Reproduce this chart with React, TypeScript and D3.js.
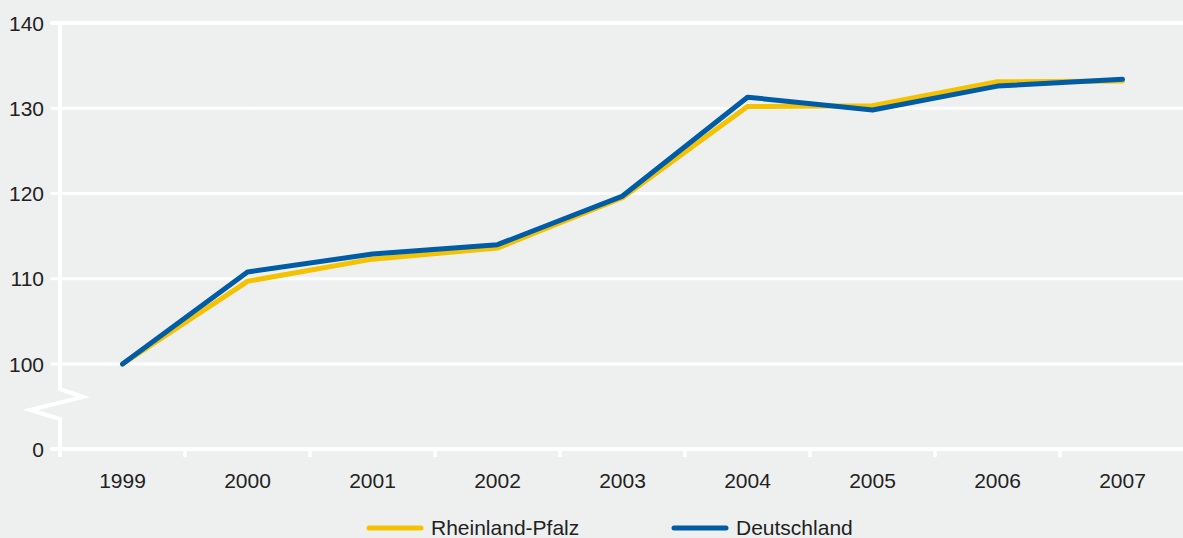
import React from "react";
import * as d3 from "d3";

const years = ["1999", "2000", "2001", "2002", "2003", "2004", "2005", "2006", "2007"];
const rheinlandPfalz = [100, 109.7, 112.3, 113.6, 119.5, 130.2, 130.3, 133.1, 133.2];
const deutschland = [100, 110.8, 112.9, 114.0, 119.7, 131.3, 129.8, 132.6, 133.4];
const yTicks = [0, 100, 110, 120, 130, 140];
const legendLabels = ["Rheinland-Pfalz", "Deutschland"];

const W = 1183;
const H = 538;
const BG = "#eef0ef";
const YELLOW = "#f5c200";
const BLUE = "#005ca6";
const FONT = "'Liberation Sans', Arial, sans-serif";

export default function App() {
  const x = d3.scaleBand<string>().domain(years).range([60, 1185]);
  const y = d3.scaleLinear().domain([0, 100, 140]).range([449, 364, 23]);
  const cx = (d: string) => (x(d) as number) + x.bandwidth() / 2;

  const line = d3
    .line<number>()
    .x((_, i) => cx(years[i]))
    .y((v) => y(v));

  const axisX = 60;
  const breakPath = d3.path();
  breakPath.moveTo(axisX, y(140) - 2);
  breakPath.lineTo(axisX, 389);
  breakPath.lineTo(83, 397);
  breakPath.lineTo(30, 410);
  breakPath.lineTo(axisX, 419);
  breakPath.lineTo(axisX, 457);

  return (
    <svg
      width={W}
      height={H}
      style={{ position: "absolute", left: 0, top: 0, display: "block" }}
      fontFamily={FONT}
    >
      <rect x={0} y={0} width={W} height={H} fill={BG} />
      {yTicks.map((t) => (
        <g key={t}>
          <line
            x1={52}
            x2={W}
            y1={y(t)}
            y2={y(t)}
            stroke="#fff"
            strokeWidth={t === 0 || t === 140 ? 4 : 3}
            strokeLinecap="round"
          />
          <text
            x={44}
            y={y(t)}
            dy="0.36em"
            textAnchor="end"
            fontSize={21}
            fill="#222"
          >
            {t}
          </text>
        </g>
      ))}
      <path d={breakPath.toString()} fill="none" stroke="#fff" strokeWidth={4} />
      {years.slice(1).map((yr) => (
        <line
          key={yr}
          x1={x(yr) as number}
          x2={x(yr) as number}
          y1={449}
          y2={457}
          stroke="#fff"
          strokeWidth={3.5}
        />
      ))}
      {years.map((yr) => (
        <text
          key={yr}
          x={cx(yr)}
          y={480}
          dy="0.36em"
          textAnchor="middle"
          fontSize={21}
          fill="#222"
        >
          {yr}
        </text>
      ))}
      <path
        d={line(rheinlandPfalz) as string}
        fill="none"
        stroke={YELLOW}
        strokeWidth={5}
        strokeLinecap="round"
        strokeLinejoin="round"
      />
      <path
        d={line(deutschland) as string}
        fill="none"
        stroke={BLUE}
        strokeWidth={5}
        strokeLinecap="round"
        strokeLinejoin="round"
      />
      <g>
        <line x1={369} x2={421} y1={528} y2={528} stroke={YELLOW} strokeWidth={5} strokeLinecap="round" />
        <text x={431} y={535} fontSize={21} fill="#222">
          {legendLabels[0]}
        </text>
        <line x1={674} x2={726} y1={528} y2={528} stroke={BLUE} strokeWidth={5} strokeLinecap="round" />
        <text x={736} y={535} fontSize={21} fill="#222">
          {legendLabels[1]}
        </text>
      </g>
    </svg>
  );
}
